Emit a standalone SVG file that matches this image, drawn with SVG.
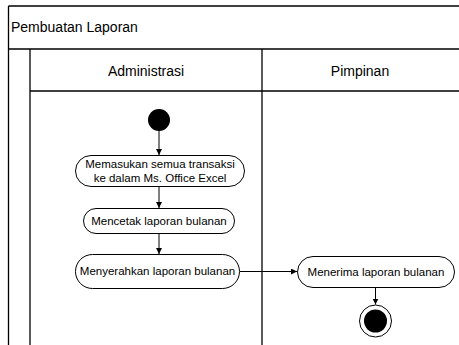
<svg xmlns="http://www.w3.org/2000/svg" width="459" height="345" viewBox="0 0 459 345">
  <style>
    .frame { stroke: #000; stroke-width: 1.3; fill: none; }
    .act { fill: #fff; stroke: #000; stroke-width: 1; }
    .edge { stroke: #000; stroke-width: 1; fill: none; marker-end: url(#arrow); }
    .title { font-family: "Liberation Sans", Arial, sans-serif; font-size: 14px; fill: #000; }
    .lane { font-family: "Liberation Sans", Arial, sans-serif; font-size: 14px; fill: #000; text-anchor: middle; }
    .label { font-family: "Liberation Sans", Arial, sans-serif; font-size: 11.5px; fill: #000; text-anchor: middle; }
  </style>
  <defs>
    <marker id="arrow" viewBox="0 0 10 10" refX="10" refY="5" markerWidth="6" markerHeight="6" markerUnits="userSpaceOnUse" orient="auto">
      <path d="M0,0 L10,5 L0,10 Z" fill="#000"/>
    </marker>
  </defs>
  <rect width="459" height="345" fill="#fff"/>

  <!-- swimlane frame -->
  <g id="pool">
    <line class="frame" x1="8.5" y1="6" x2="459" y2="6"/>
    <line class="frame" x1="8.5" y1="6" x2="8.5" y2="345"/>
    <line class="frame" x1="8.5" y1="49" x2="459" y2="49"/>
    <line class="frame" x1="30" y1="49" x2="30" y2="345"/>
    <line class="frame" x1="30" y1="91" x2="459" y2="91"/>
    <line class="frame" x1="262" y1="49" x2="262" y2="345"/>
    <text class="title" x="11" y="32">Pembuatan Laporan</text>
    <text class="lane" x="146" y="76">Administrasi</text>
    <text class="lane" x="360" y="76">Pimpinan</text>
  </g>

  <!-- connectors -->
  <g id="connectors">
    <line class="edge" x1="159" y1="131" x2="159" y2="155"/>
    <line class="edge" x1="159" y1="187" x2="159" y2="208"/>
    <line class="edge" x1="159" y1="233" x2="159" y2="254"/>
    <line class="edge" x1="240" y1="271.5" x2="297" y2="271.5"/>
    <line class="edge" x1="375.5" y1="288" x2="375.5" y2="304.5"/>
  </g>

  <g id="start">
    <circle cx="159" cy="120" r="11" fill="#000"/>
  </g>

  <g id="act-input">
    <rect class="act" x="75.5" y="155.5" width="169" height="31" rx="15.5"/>
    <text class="label" x="160" y="168">Memasukan semua transaksi</text>
    <text class="label" x="160" y="182">ke dalam Ms. Office Excel</text>
  </g>

  <g id="act-print">
    <rect class="act" x="83.5" y="208.5" width="151" height="25" rx="12.5"/>
    <text class="label" x="159" y="225">Mencetak laporan bulanan</text>
  </g>

  <g id="act-submit">
    <rect class="act" x="75.5" y="254.5" width="164" height="34" rx="17"/>
    <text class="label" x="157.5" y="275">Menyerahkan laporan bulanan</text>
  </g>

  <g id="act-receive">
    <rect class="act" x="297.5" y="256.5" width="157" height="31" rx="15.5"/>
    <text class="label" x="376" y="276">Menerima laporan bulanan</text>
  </g>

  <g id="end">
    <circle cx="375.5" cy="321" r="16" fill="#fff" stroke="#000" stroke-width="1"/>
    <circle cx="375.5" cy="321" r="11.5" fill="#000"/>
  </g>
</svg>
